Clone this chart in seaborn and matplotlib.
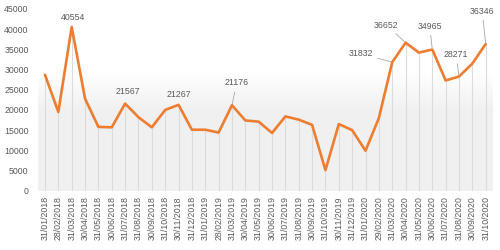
import numpy as np
import pandas as pd
import matplotlib
matplotlib.use("Agg")
import matplotlib.pyplot as plt
import seaborn as sns

dates = ["31/01/2018", "28/02/2018", "31/03/2018", "30/04/2018", "31/05/2018", "30/06/2018",
         "31/07/2018", "31/08/2018", "30/09/2018", "31/10/2018", "30/11/2018", "31/12/2018",
         "31/01/2019", "28/02/2019", "31/03/2019", "30/04/2019", "31/05/2019", "30/06/2019",
         "31/07/2019", "31/08/2019", "30/09/2019", "31/10/2019", "30/11/2019", "31/12/2019",
         "31/01/2020", "29/02/2020", "31/03/2020", "30/04/2020", "31/05/2020", "30/06/2020",
         "31/07/2020", "31/08/2020", "30/09/2020", "31/10/2020"]
values = [28700, 19500, 40554, 22800, 15800, 15700,
          21567, 18200, 15700, 20000, 21267, 15100,
          15100, 14400, 21176, 17400, 17100, 14300,
          18400, 17600, 16300, 5100, 16500, 15000,
          9900, 18000, 31832, 36652, 34200, 34965,
          27300, 28271, 31500, 36346]
# label offsets in pixels (dx right, dy up)
labelled = {2: (1.3, 9.5), 6: (2.6, 12.3), 10: (0.5, 10.2), 14: (4.7, 22.3),
            26: (-31.2, 8.4), 27: (-19.2, 17.7), 29: (-2.6, 23.4),
            31: (-2.8, 22.0), 33: (-3.5, 32.9)}
yticks = [0, 5000, 10000, 15000, 20000, 25000, 30000, 35000, 40000, 45000]

sns.set_theme(style="white")
plt.rcParams['font.family'] = ['Liberation Sans', 'DejaVu Sans']

df = pd.DataFrame({"x": np.arange(len(dates)), "v": values})

fig = plt.figure(figsize=(5, 2.5), dpi=100)
ax = fig.add_axes([0.0766, 0.2372, 0.9082, 0.7268])

n = len(dates)
# gradient background
grad = np.linspace(0, 1, 256).reshape(-1, 1)
col_top = np.array([1.0, 1.0, 1.0])
col_bot = np.array([0.945, 0.945, 0.945])
img = col_bot + (col_top - col_bot) * np.clip((grad - 0.45) / 0.2, 0, 1)
img = img[:, None, :]
img = np.tile(img, (1, 2, 1))
ax.imshow(img, extent=[-0.5, n - 0.5, 0, 45000], origin="lower",
          aspect="auto", zorder=0)

ax.vlines(df["x"], 0, df["v"], color="#dcdcdc", lw=0.8, zorder=1)
sns.lineplot(data=df, x="x", y="v", ax=ax, color="#ed7d31", lw=1.9, zorder=3)

ax.set_xlim(-0.5, n - 0.5)
ax.set_ylim(0, 45000)
ax.set_yticks(yticks)
ax.set_yticklabels([str(v) for v in yticks], fontsize=6.3, color="#595959")
ax.set_xticks(df["x"])
ax.set_xticklabels(dates, rotation=90, fontsize=6.3, color="#595959")
ax.tick_params(axis="y", length=0, pad=7)
ax.tick_params(axis="x", length=0, pad=4)
ax.set_xlabel("")
ax.set_ylabel("")
for s in ax.spines.values():
    s.set_visible(False)

px2pt = 72.0 / 100.0
for i, (dx, dy) in labelled.items():
    v = values[i]
    lead = (dx * dx + dy * dy) ** 0.5 > 14
    ax.annotate(str(v), xy=(i, v), xytext=(dx * px2pt, dy * px2pt),
                textcoords="offset points",
                ha="center", va="center", fontsize=6.3, color="#595959",
                arrowprops=dict(arrowstyle="-", color="#a6a6a6", lw=0.6,
                                shrinkA=1, shrinkB=1) if lead else None,
                zorder=4)

fig.savefig("out.png", dpi=100)
